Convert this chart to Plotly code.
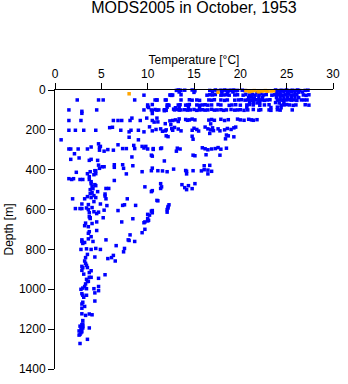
import plotly.graph_objects as go

# ---- data: temperature [°C] and depth [m] ----
surf_T = [13.1,13.3,13.6,14.0,14.8,15.1,16.7,17.3,17.5,17.9,18.1,18.3,18.5,18.7,18.9,19.1,19.3,19.5,19.7,20.2,20.5,23.8,24.0,24.2,24.4,24.6,24.8,25.0,25.2,25.4,25.6,25.8,26.0,26.2,26.4,27.0,27.3]
surf_D = [2,0,3,1,0,4,2,0,3,1,4,0,2,5,1,3,0,4,2,1,3,0,3,5,1,4,2,0,5,3,1,4,2,0,3,2,1]

d10_T = [13.4,15.0,17.0,18.0,18.6,19.2,21.8,23.9,24.3,24.7,25.1,25.5,25.9,26.3,26.7]
d10_D = [10,12,9,11,13,10,12,8,14,10,12,9,13,11,10]

d25_T = [12.4,12.7,13.6,16.4,16.7,17.0,17.3,17.9,18.2,18.5,18.8,19.4,19.7,20.3,20.6,21.0,21.3,21.6,22.0,22.2,22.5,22.8,23.4,23.7,24.0,24.3,24.6,24.9,25.2,25.5,25.8,26.1,26.8,27.1,27.4]
d25_D = [25,25,24,26,24,25,23,26,25,24,26,25,24,26,23,25,22,26,24,20,25,23,26,24,22,25,27,24,21,26,25,23,25,27,24]

d38_T = [20.9,21.2,21.5,22.0,22.4,23.9,24.3,24.7,25.1,25.5,25.9,26.3]
d38_D = [38,36,40,37,39,38,36,40,37,39,36,38]

d50_T = [10.8,11.0,11.9,13.6,14.5,14.8,15.3,15.6,16.6,16.9,17.2,17.9,18.3,18.6,19.4,19.8,20.1,20.5,20.8,21.1,21.4,21.7,22.0,22.3,22.6,22.9,23.2,24.0,24.3,24.6,24.9,25.2,25.5,25.8,26.1,26.6,26.9,27.2]
d50_D = [50,50,50,50,49,51,50,52,50,51,49,50,52,50,51,50,49,51,50,52,50,49,51,50,52,50,49,51,50,52,50,49,51,50,52,50,50,50]

d64_T = [21.0,21.4,21.8,22.1,23.8,24.2,24.7]
d64_D = [64,63,65,64,63,65,64]

d75_T = [10.0,10.5,12.1,12.3,13.3,13.5,14.1,14.3,14.5,15.3,15.6,15.9,16.2,16.5,16.9,17.6,17.9,18.8,19.1,19.5,20.0,20.7,21.0,21.4,22.1,22.6,23.1,24.4,24.7,25.0,25.3,25.7,26.0,27.0,27.4]
d75_D = [75,73,75,77,75,74,76,75,73,75,77,75,74,76,75,73,75,77,75,74,76,75,73,75,77,75,74,76,75,73,75,77,75,74,76]

d88_T = [10.1,12.1,13.0,13.4,14.4,15.6,20.7,23.3,24.0,24.4,10.0]
d88_D = [88,86,89,87,88,90,87,88,86,89,83]

d100_T = [10.4,10.8,11.0,11.2,11.8,12.0,12.9,13.1,13.4,13.6,14.0,14.3,14.6,15.0,15.3,15.6,15.9,16.2,16.5,16.9,17.2,17.5,17.9,18.2,18.5,19.0,19.4,19.7,20.0,20.4,20.8,21.4,22.0,22.2,23.1,23.3,24.0,24.3,25.6]
d100_D = [100,98,101,100,99,102,100,97,101,100,99,101,100,98,102,100,99,101,100,97,101,100,99,102,100,98,101,100,99,102,100,98,101,99,100,102,99,101,100]

left_T = [2.4,4.7,5.2,8.6,11.0,12.0,9.6,12.5,12.6,1.5,2.9,2.9,4.5,9.6,10.5,11.8,12.8,10.5,12.2,13.5]
left_D = [50,50,50,50,50,50,26,26,27,100,107,117,100,100,104,104,96,118,75,1]

d150_T = [1.5,2.8,6.3,6.8,7.2,8.1,8.3,9.2,9.9,10.5,11.0,10.7,11.9,12.5,12.7,13.0,13.4,14.1,14.3,14.8,15.1,16.6,16.9,17.2,17.9,18.3,18.7,19.7,20.0,20.4,20.9,21.2,21.4,21.8,11.1,12.4,13.3,14.5,16.8]
d150_D = [153,153,153,153,153,153,141,153,141,153,141,161,169,174,153,150,145,148,152,146,150,151,148,152,147,153,149,146,150,152,147,150,152,149,160,155,158,150,170]

d200_T = [1.5,2.2,3.1,4.4,5.9,6.2,7.1,8.0,8.2,9.0,9.6,10.5,10.9,11.6,12.0,12.6,12.7,12.9,13.3,13.6,14.8,15.0,15.3,15.5,16.2,16.5,16.8,17.0,17.1,17.6,17.8,18.3,18.6,19.0,19.3,19.5,10.2,11.4,11.9]
d200_D = [202,202,202,202,189,187,202,210,202,202,210,205,198,207,200,194,202,188,196,205,202,192,198,206,186,195,200,190,204,195,205,200,193,198,190,186,185,195,205]

d240_T = [0.66,8.0,9.0,12.2,12.0,14.8,18.7,19.3,18.4,14.9,16.7,18.5]
d240_D = [250,237,250,234,230,232,230,235,245,247,218,226]

d300_T = [1.5,1.7,2.5,2.1,3.5,3.9,4.7,4.9,4.8,4.8,5.3,5.7,6.3,6.8,7.3,7.7,8.5,8.6,9.4,9.6,9.8,10.5,10.6,11.5,13.1,10.0,10.6,11.4,13.2,13.5,15.9,16.2,16.5,16.9,17.3,17.6,17.9,18.5,10.4,14.9,15.1,16.3,17.8]
d300_D = [296,296,296,320,296,286,270,283,288,302,307,299,302,275,294,294,278,294,283,291,283,332,294,291,307,296,298,294,292,296,290,295,300,296,294,289,297,292,327,327,330,325,327]

d400_T = [1.7,2.6,3.7,3.9,4.6,5.3,6.4,6.4,7.3,7.4,8.4,8.3,2.3,3.8,4.3,4.4,4.7,4.8,5.1,3.5,4.2,4.4,7.7,9.4,10.5,11.1,12.1,12.8,11.8,10.4,11.6,14.1,14.2,14.9,15.8,16.1,16.5,16.9,16.1,16.7,14.2,16.5]
d400_D = [348,341,353,348,353,385,375,388,375,393,380,336,413,410,405,405,377,393,385,420,425,420,421,410,392,405,410,397,356,405,406,404,408,405,406,400,402,408,380,378,421,421]

d500_T = [1.5,1.8,2.0,2.7,3.0,3.7,3.7,3.9,4.0,3.8,4.0,4.2,3.9,4.3,4.1,3.8,5.5,5.8,6.4,9.7,10.5,11.4,11.5,11.4,13.7,14.0,14.4,14.8,15.1,14.2,10.4,1.9,3.2,3.5,3.9,4.4,5.4,5.4,5.5,7.8,11.0,11.1]
d500_D = [445,449,445,449,449,435,449,470,485,500,515,530,460,475,495,520,494,494,454,486,505,494,486,470,475,490,480,495,470,500,510,546,546,535,540,540,522,532,546,546,554,556]

d600_T = [2.9,2.2,2.7,2.9,3.4,3.6,3.7,4.9,4.2,4.7,5.6,5.3,6.8,7.3,7.5,8.7,10.5,12.2,12.3,12.1,12.1,12.2,10.4,10.0,10.0,3.7,3.8,4.5,5.2,3.3,8.4,7.2,9.7,10.1,10.2,10.5,3.8,4.0,3.2,3.6,9.6,10.0,4.4,4.6,4.2,3.6,4.0,4.5]
d600_D = [572,595,595,595,592,600,616,572,611,613,580,603,605,579,576,579,605,592,576,613,600,585,608,624,657,636,641,662,641,668,646,662,662,654,628,616,645,670,681,686,666,645,480,510,560,575,590,620]

deep_T = [3.7,3.6,4.5,9.7,9.4,3.6,4.1,3.9,5.5,8.1,7.9,8.0,8.6,2.9,2.9,3.2,2.8,3.4,3.9,4.4,4.9,6.6,7.5,7.4,3.5,3.3,4.3,6.3,6.1,5.7,6.5,3.2,3.4,3.5,2.9,3.0,3.7,3.9,3.1,3.7,3.4,5.4,3.3,3.5,3.9,4.7,3.2,3.0,2.8,3.4,4.2,4.7,4.7,2.9,3.4,3.0,4.3,4.3,2.9,3.0,3.2,2.9,2.9,3.3,3.7,4.0,3.0,2.7,2.9,3.0,3.0,2.6,2.8,2.9,3.7,2.7,3.5,2.7,3.0,3.3,2.9,3.6,3.1,2.9,2.6,3.0,2.8]
deep_D = [711,719,705,699,716,747,760,736,752,727,752,755,760,752,760,765,800,797,800,795,800,781,795,812,825,841,838,830,841,846,858,858,880,891,885,892,916,907,924,940,950,927,973,961,940,945,986,994,1000,997,997,986,1007,1022,1030,1030,1018,1059,1074,1065,1086,1095,1123,1131,1124,1128,1157,1185,1177,1174,1194,1209,1218,1213,1194,1226,1251,1272,770,870,905,960,1040,1195,1230,1185,1200]

orange_T = [8.0,17.6,20.6,20.9,21.0,21.2,21.5,21.9,22.0,22.2,22.4,22.7,22.9,23.3,23.6]
orange_D = [19,11,3,4,8,5,3,6,9,4,5,3,6,5,4]

x_ticks = [0, 5, 10, 15, 20, 25, 30]
y_ticks = [0, 200, 400, 600, 800, 1000, 1200, 1400]

blue_groups = [(surf_T, surf_D), (d10_T, d10_D), (d25_T, d25_D), (d38_T, d38_D),
               (d50_T, d50_D), (d64_T, d64_D), (d75_T, d75_D), (d88_T, d88_D),
               (d100_T, d100_D), (left_T, left_D), (d150_T, d150_D), (d200_T, d200_D),
               (d240_T, d240_D), (d300_T, d300_D), (d400_T, d400_D), (d500_T, d500_D),
               (d600_T, d600_D), (deep_T, deep_D)]
blue_T, blue_D = [], []
for t, d in blue_groups:
    blue_T += t
    blue_D += d

FONT = "Liberation Sans, Arial, Helvetica, sans-serif"

fig = go.Figure()
fig.add_trace(go.Scatter(x=blue_T, y=blue_D, mode="markers", cliponaxis=False,
                         marker=dict(symbol="square", size=3.5, color="#0000FF", line_width=0),
                         showlegend=False))
fig.add_trace(go.Scatter(x=orange_T, y=orange_D, mode="markers", cliponaxis=False,
                         marker=dict(symbol="square", size=3.5, color="#FFA500", line_width=0),
                         showlegend=False))

fig.update_layout(
    width=348, height=384,
    margin=dict(l=54, r=8, t=90, b=8),
    paper_bgcolor="white", plot_bgcolor="white",
    font=dict(family=FONT, size=12, color="black"),
    title=dict(text="MODS2005 in October, 1953", x=0.5, xref="paper",
               y=1 - 2 / 384, yref="container", yanchor="top",
               font=dict(family=FONT, size=16, color="black")),
    xaxis=dict(side="top", range=[0, 30], tickvals=x_ticks, ticks="outside", ticklen=6,
               tickcolor="black", showline=True, linecolor="black", linewidth=1,
               showgrid=False, zeroline=False, tickfont=dict(size=12),
               title=dict(text="Temperature [°C]", standoff=0, font=dict(size=12))),
    yaxis=dict(range=[1400, 0], tickvals=y_ticks, ticks="outside", ticklen=6,
               tickcolor="black", showline=True, linecolor="black", linewidth=1,
               showgrid=False, zeroline=False, tickfont=dict(size=12),
               title=dict(text="Depth [m]", standoff=2, font=dict(size=12))),
)

fig.write_html("out.html")
